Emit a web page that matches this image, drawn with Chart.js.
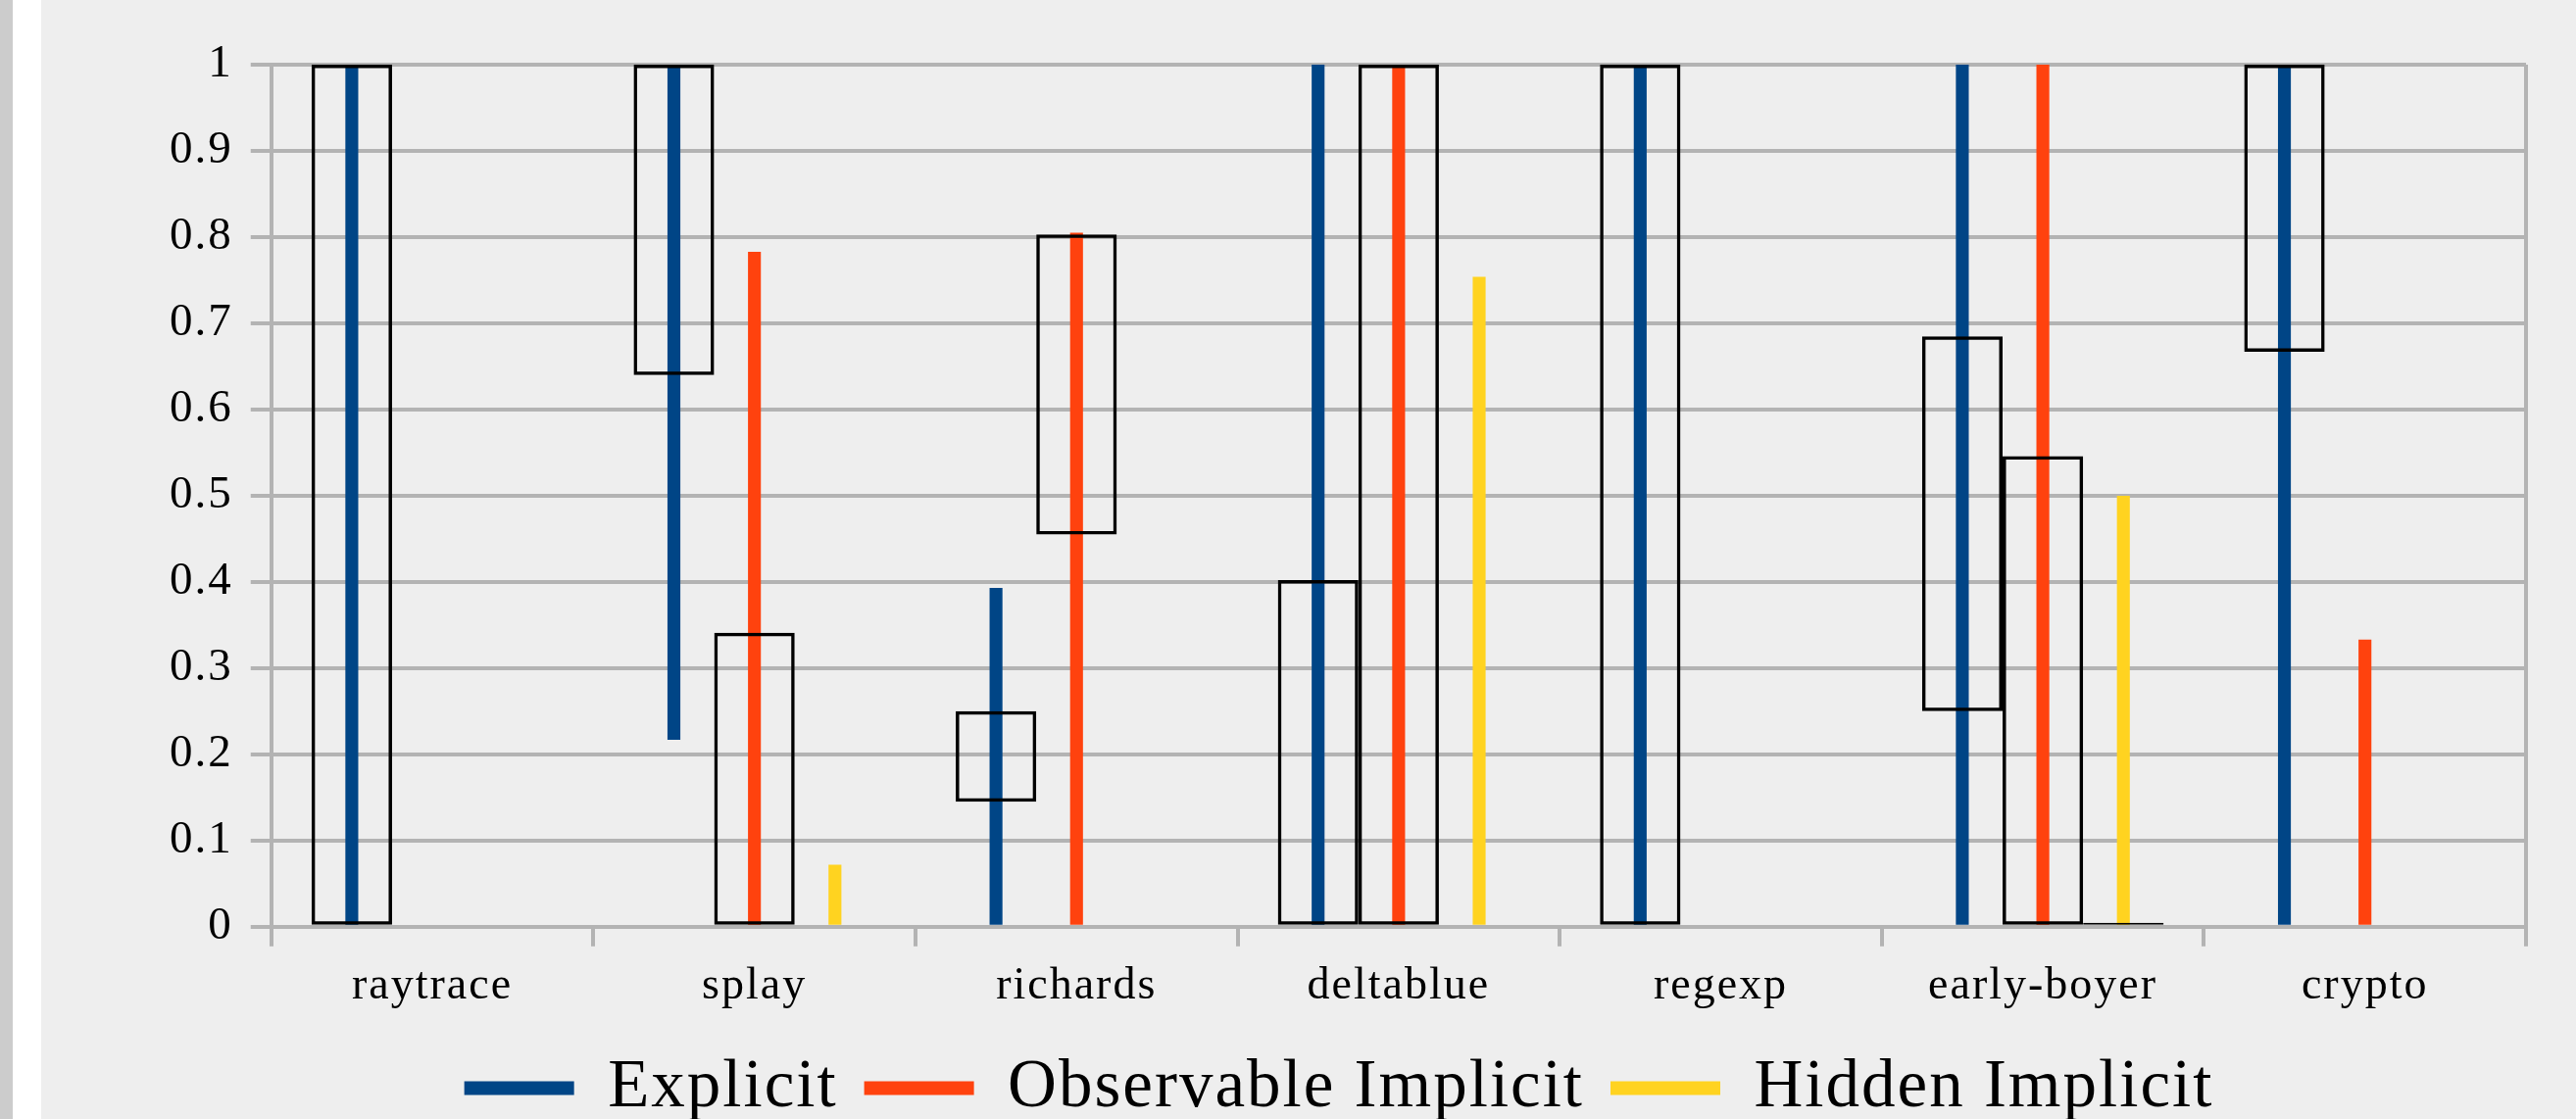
<!DOCTYPE html>
<html lang="en">
<head>
    <meta charset="UTF-8">
    <title>Explicit / Observable Implicit / Hidden Implicit</title>
    <script src="https://cdn.jsdelivr.net/npm/chart.js"></script>
    <style>
        html, body {
            margin: 0;
            padding: 0;
            width: 2628px;
            height: 1142px;
            overflow: hidden;
            background: #eeeeee;
        }
        #strip-gray {
            position: absolute; left: 0; top: 0;
            width: 13px; height: 1142px;
            background: #cccccc;
        }
        #strip-white {
            position: absolute; left: 13px; top: 0;
            width: 29px; height: 1142px;
            background: #ffffff;
        }
        #chart-container {
            position: absolute; left: 42px; top: 0;
        }
    </style>
</head>
<body>
    <div id="strip-gray"></div>
    <div id="strip-white"></div>
    <div id="chart-container">
        <canvas id="rangeChart" width="2586" height="1155"></canvas>
    </div>

    <script>
        // benchmarks
        const categories = ["raytrace", "splay", "richards", "deltablue", "regexp", "early-boyer", "crypto"];
        const yTickLabels = ["0", "0.1", "0.2", "0.3", "0.4", "0.5", "0.6", "0.7", "0.8", "0.9", "1"];

        // thin bars (low .. high)
        const explicitLow      = [0, 0.217, 0,     0,     0, 0,   0];
        const explicitHigh     = [1, 1,     0.393, 1,     1, 1,   1];
        const observableLow    = [null, 0,     0,     0,     null, 0, 0];
        const observableHigh   = [null, 0.783, 0.805, 1,     null, 1, 0.333];
        const hiddenLow        = [null, 0,     null, 0,     null, 0,   null];
        const hiddenHigh       = [null, 0.072, null, 0.754, null, 0.5, null];

        // outlined boxes (low .. high)
        const explicitBoxLow   = [0, 0.64, 0.145, 0,     0, 0.25,  0.667];
        const explicitBoxHigh  = [1, 1,    0.25,  0.402, 1, 0.685, 1];
        const observableBoxLow = [null, 0,     0.455, 0, null, 0,     null];
        const observableBoxHigh= [null, 0.341, 0.803, 1, null, 0.546, null];
        const hiddenBoxLow     = [null, null, null, null, null, 0, null];
        const hiddenBoxHigh    = [null, null, null, null, null, 0, null];

        const BLUE = "#004586";
        const ORANGE = "#ff420e";
        const YELLOW = "#ffd320";
        const GRID = "#b3b3b3";
        const FONT = "'Liberation Serif', 'DejaVu Serif', serif";

        function pairs(low, high) {
            return low.map((l, i) => (l === null || high[i] === null) ? null : [l, high[i]]);
        }

        function lineSet(label, color, stack, low, high) {
            return {
                label: label,
                data: pairs(low, high),
                backgroundColor: color,
                borderColor: color,
                borderWidth: 0,
                stack: stack,
                order: 1,
                categoryPercentage: 0.75,
                barPercentage: 0.16
            };
        }

        function boxSet(stack, low, high) {
            return {
                label: "box-" + stack,
                data: pairs(low, high),
                backgroundColor: "rgba(0,0,0,0)",
                borderColor: "#000000",
                borderWidth: 3.5,
                borderSkipped: false,
                minBarLength: 4,
                stack: stack,
                order: 0,
                categoryPercentage: 0.75,
                barPercentage: 1.0
            };
        }

        // the original serif is wider than Liberation Serif, so space the letters a bit
        const letterSpacing = {
            id: "letterSpacing",
            beforeLayout(chart) { chart.ctx.letterSpacing = "2px"; },
            beforeDraw(chart) { chart.ctx.letterSpacing = "2px"; }
        };

        const ctx = document.getElementById("rangeChart").getContext("2d");
        new Chart(ctx, {
            type: "bar",
            data: {
                labels: categories,
                datasets: [
                    lineSet("Explicit", BLUE, "e", explicitLow, explicitHigh),
                    lineSet("Observable Implicit", ORANGE, "o", observableLow, observableHigh),
                    lineSet("Hidden Implicit", YELLOW, "h", hiddenLow, hiddenHigh),
                    boxSet("e", explicitBoxLow, explicitBoxHigh),
                    boxSet("o", observableBoxLow, observableBoxHigh),
                    boxSet("h", hiddenBoxLow, hiddenBoxHigh)
                ]
            },
            plugins: [letterSpacing],
            options: {
                responsive: false,
                animation: false,
                layout: {
                    padding: { left: 113, right: 51, top: 66, bottom: 0 }
                },
                scales: {
                    x: {
                        grid: {
                            offset: true,
                            lineWidth: 4,
                            color: c => (c.type === "tick" && c.index > 0) ? "rgba(0,0,0,0)" : GRID,
                            tickColor: GRID,
                            tickLength: 20
                        },
                        border: { display: true, color: GRID, width: 4 },
                        ticks: {
                            color: "#000",
                            padding: 14,
                            font: { family: FONT, size: 46 }
                        }
                    },
                    y: {
                        stacked: false,
                        min: 0,
                        max: 1,
                        grid: {
                            color: GRID,
                            lineWidth: 4,
                            tickLength: 21
                        },
                        border: { display: true, color: GRID, width: 4 },
                        ticks: {
                            stepSize: 0.1,
                            color: "#000",
                            padding: 18,
                            font: { family: FONT, size: 47 },
                            callback: (v, i) => yTickLabels[i]
                        }
                    }
                },
                plugins: {
                    tooltip: { enabled: false },
                    legend: {
                        position: "bottom",
                        labels: {
                            color: "#000",
                            font: { family: FONT, size: 69 },
                            boxWidth: 112,
                            boxHeight: 14,
                            padding: 27,
                            filter: item => item.datasetIndex < 3
                        }
                    }
                }
            }
        });
    </script>
</body>
</html>
